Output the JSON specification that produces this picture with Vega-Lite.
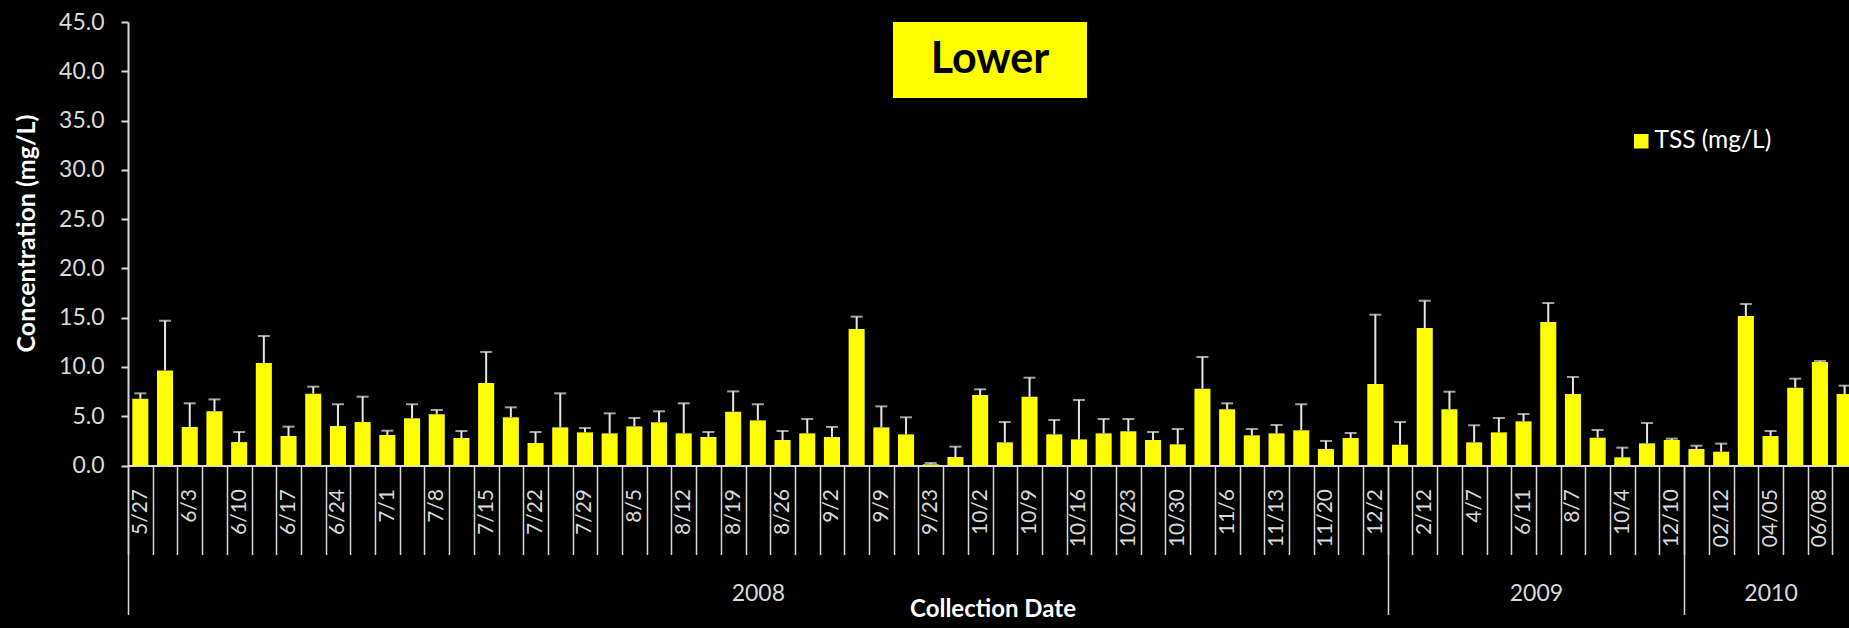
{
  "$schema": "https://vega.github.io/schema/vega-lite/v6.json",
  "width": 1729,
  "height": 443.5,
  "autosize": {"type": "none"},
  "padding": {"left": 128, "top": 22, "right": -8, "bottom": 162.5},
  "background": "#000000",
  "config": {"view": {"stroke": null}, "font": "Lato"},
  "layer": [
    {
      "data": {"values": [
        {"cat": "00|5/27", "tss": 6.78, "hi": 7.32},
        {"cat": "01|", "tss": 9.65, "hi": 14.69},
        {"cat": "02|6/3", "tss": 3.91, "hi": 6.31},
        {"cat": "03|", "tss": 5.50, "hi": 6.71},
        {"cat": "04|6/10", "tss": 2.38, "hi": 3.40},
        {"cat": "05|", "tss": 10.40, "hi": 13.14},
        {"cat": "06|6/17", "tss": 2.99, "hi": 3.94},
        {"cat": "07|", "tss": 7.29, "hi": 8.00},
        {"cat": "08|6/24", "tss": 4.00, "hi": 6.21},
        {"cat": "09|", "tss": 4.41, "hi": 6.98},
        {"cat": "10|7/1", "tss": 3.09, "hi": 3.53},
        {"cat": "11|", "tss": 4.79, "hi": 6.21},
        {"cat": "12|7/8", "tss": 5.19, "hi": 5.63},
        {"cat": "13|", "tss": 2.79, "hi": 3.50},
        {"cat": "14|7/15", "tss": 8.37, "hi": 11.52},
        {"cat": "15|", "tss": 4.89, "hi": 5.90},
        {"cat": "16|7/22", "tss": 2.28, "hi": 3.40},
        {"cat": "17|", "tss": 3.87, "hi": 7.32},
        {"cat": "18|7/29", "tss": 3.36, "hi": 3.80},
        {"cat": "19|", "tss": 3.26, "hi": 5.29},
        {"cat": "20|8/5", "tss": 3.97, "hi": 4.82},
        {"cat": "21|", "tss": 4.38, "hi": 5.50},
        {"cat": "22|8/12", "tss": 3.26, "hi": 6.31},
        {"cat": "23|", "tss": 2.89, "hi": 3.40},
        {"cat": "24|8/19", "tss": 5.46, "hi": 7.52},
        {"cat": "25|", "tss": 4.58, "hi": 6.21},
        {"cat": "26|8/26", "tss": 2.59, "hi": 3.50},
        {"cat": "27|", "tss": 3.26, "hi": 4.72},
        {"cat": "28|9/2", "tss": 2.89, "hi": 3.91},
        {"cat": "29|", "tss": 13.85, "hi": 15.10},
        {"cat": "30|9/9", "tss": 3.87, "hi": 6.00},
        {"cat": "31|", "tss": 3.16, "hi": 4.89},
        {"cat": "32|9/23", "tss": 0.12, "hi": 0.25},
        {"cat": "33|", "tss": 0.86, "hi": 1.91},
        {"cat": "34|10/2", "tss": 7.15, "hi": 7.73},
        {"cat": "35|", "tss": 2.35, "hi": 4.41},
        {"cat": "36|10/9", "tss": 6.98, "hi": 8.91},
        {"cat": "37|", "tss": 3.16, "hi": 4.62},
        {"cat": "38|10/16", "tss": 2.65, "hi": 6.65},
        {"cat": "39|", "tss": 3.26, "hi": 4.72},
        {"cat": "40|10/23", "tss": 3.47, "hi": 4.72},
        {"cat": "41|", "tss": 2.59, "hi": 3.40},
        {"cat": "42|10/30", "tss": 2.15, "hi": 3.70},
        {"cat": "43|", "tss": 7.80, "hi": 11.01},
        {"cat": "44|11/6", "tss": 5.70, "hi": 6.31},
        {"cat": "45|", "tss": 3.06, "hi": 3.70},
        {"cat": "46|11/13", "tss": 3.26, "hi": 4.11},
        {"cat": "47|", "tss": 3.57, "hi": 6.21},
        {"cat": "48|11/20", "tss": 1.67, "hi": 2.49},
        {"cat": "49|", "tss": 2.79, "hi": 3.30},
        {"cat": "50|12/2", "tss": 8.27, "hi": 15.30},
        {"cat": "51|", "tss": 2.11, "hi": 4.41},
        {"cat": "52|2/12", "tss": 13.95, "hi": 16.72},
        {"cat": "53|", "tss": 5.70, "hi": 7.49},
        {"cat": "54|4/7", "tss": 2.35, "hi": 4.08},
        {"cat": "55|", "tss": 3.36, "hi": 4.82},
        {"cat": "56|6/11", "tss": 4.48, "hi": 5.22},
        {"cat": "57|", "tss": 14.56, "hi": 16.49},
        {"cat": "58|8/7", "tss": 7.25, "hi": 8.98},
        {"cat": "59|", "tss": 2.82, "hi": 3.60},
        {"cat": "60|10/4", "tss": 0.83, "hi": 1.81},
        {"cat": "61|", "tss": 2.25, "hi": 4.31},
        {"cat": "62|12/10", "tss": 2.59, "hi": 2.72},
        {"cat": "63|", "tss": 1.67, "hi": 2.01},
        {"cat": "64|02/12", "tss": 1.40, "hi": 2.22},
        {"cat": "65|", "tss": 15.17, "hi": 16.39},
        {"cat": "66|04/05", "tss": 2.99, "hi": 3.50},
        {"cat": "67|", "tss": 7.90, "hi": 8.81},
        {"cat": "68|06/08", "tss": 10.50, "hi": 10.60},
        {"cat": "69|", "tss": 7.25, "hi": 8.10}
      ]},
      "encoding": {
        "x": {
          "field": "cat", "type": "ordinal", "sort": null,
          "scale": {"paddingInner": 0, "paddingOuter": 0},
          "axis": {
            "orient": "bottom",
            "title": null,
            "labelExpr": "split(datum.value, '|')[1]",
            "labelAngle": -90,
            "labelFont": "Lato",
            "labelFontSize": 21,
            "labelColor": "#d9d9d9",
            "labelPadding": -66,
            "labelOverlap": false,
            "labelBound": false,
            "tickBand": "extent",
            "tickSize": 89,
            "tickColor": "#d9d9d9",
            "tickWidth": 1.5,
            "domainColor": "#d9d9d9",
            "domainWidth": 2,
            "grid": false
          }
        }
      },
      "layer": [
        {
          "mark": {"type": "bar", "width": {"band": 0.65}},
          "encoding": {
            "y": {
              "field": "tss", "type": "quantitative",
              "scale": {"domain": [0, 45], "nice": false},
              "axis": {
                "title": "Concentration (mg/L)",
                "values": [0, 5, 10, 15, 20, 25, 30, 35, 40, 45],
                "format": ".1f",
                "labelFont": "Lato",
                "labelFontSize": 23,
                "labelColor": "#d9d9d9",
                "labelPadding": 17,
                "tickSize": 7,
                "tickColor": "#d9d9d9",
                "tickWidth": 2,
                "domainColor": "#d9d9d9",
                "domainWidth": 2,
                "grid": false,
                "titleFont": "Lato",
                "titleFontSize": 25,
                "titleFontWeight": "bold",
                "titleColor": "#ffffff",
                "titleX": -102,
                "titleY": 211,
                "titleBaseline": "middle"
              }
            },
            "color": {
              "datum": "TSS (mg/L)",
              "scale": {"range": ["#ffff00"]},
              "legend": {
                "orient": "none", "legendX": 1501, "legendY": 107,
                "title": null, "symbolType": "square", "symbolSize": 210,
                "symbolStrokeWidth": 0, "labelFont": "Lato", "labelFontSize": 24.5,
                "labelColor": "#ffffff", "labelOffset": 1, "padding": 0
              }
            },
            "opacity": {
              "datum": "Lower",
              "type": "nominal",
              "scale": {"type": "ordinal", "range": [1]},
              "legend": {
                "orient": "none", "legendX": 765, "legendY": -59,
                "title": null,
                "symbolType": "M-1,-0.392H1V0.392H-1Z",
                "symbolSize": 37636,
                "symbolFillColor": "#ffff00",
                "symbolStrokeWidth": 0,
                "symbolOpacity": 1,
                "labelFont": "Lato", "labelFontWeight": "bold", "labelFontSize": 43,
                "labelColor": "#000000", "labelAlign": "center", "labelOffset": -97,
                "padding": 0
              }
            }
          }
        },
        {
          "mark": {"type": "rule", "color": "#e6e6e6", "strokeWidth": 2},
          "encoding": {
            "y": {"field": "tss", "type": "quantitative"},
            "y2": {"field": "hi"}
          }
        },
        {
          "mark": {"type": "tick", "color": "#e6e6e6", "size": 12, "thickness": 2},
          "encoding": {
            "y": {"field": "hi", "type": "quantitative"}
          }
        }
      ]
    },
    {
      "data": {"values": [
        {"year": "2008", "start": 0, "end": 51},
        {"year": "2009", "start": 51, "end": 63},
        {"year": "2010", "start": 63, "end": 70}
      ]},
      "mark": {"type": "rule", "opacity": 0},
      "encoding": {
        "x": {
          "field": "start", "type": "quantitative",
          "scale": {"domain": [0, 70], "nice": false, "zero": false},
          "axis": {
            "orient": "bottom",
            "values": [0, 25.5, 51, 57, 63, 66.5],
            "labelExpr": "datum.value == 25.5 ? '2008' : datum.value == 57 ? '2009' : datum.value == 66.5 ? '2010' : ''",
            "tickOpacity": {"condition": {"test": "datum.value == 0 || datum.value == 51 || datum.value == 63", "value": 1}, "value": 0},
            "tickSize": 149,
            "tickColor": "#d9d9d9",
            "tickWidth": 1.5,
            "domain": false,
            "grid": false,
            "labelFont": "Lato",
            "labelFontSize": 23,
            "labelColor": "#d9d9d9",
            "labelPadding": -32,
            "labelFlush": false,
            "labelOverlap": false,
            "title": "Collection Date",
            "titleFont": "Lato",
            "titleFontSize": 24,
            "titleFontWeight": "bold",
            "titleColor": "#ffffff",
            "titleY": 144,
            "titleBaseline": "middle"
          }
        }
      }
    }
  ],
  "resolve": {"scale": {"x": "independent"}, "axis": {"x": "independent"}}
}
